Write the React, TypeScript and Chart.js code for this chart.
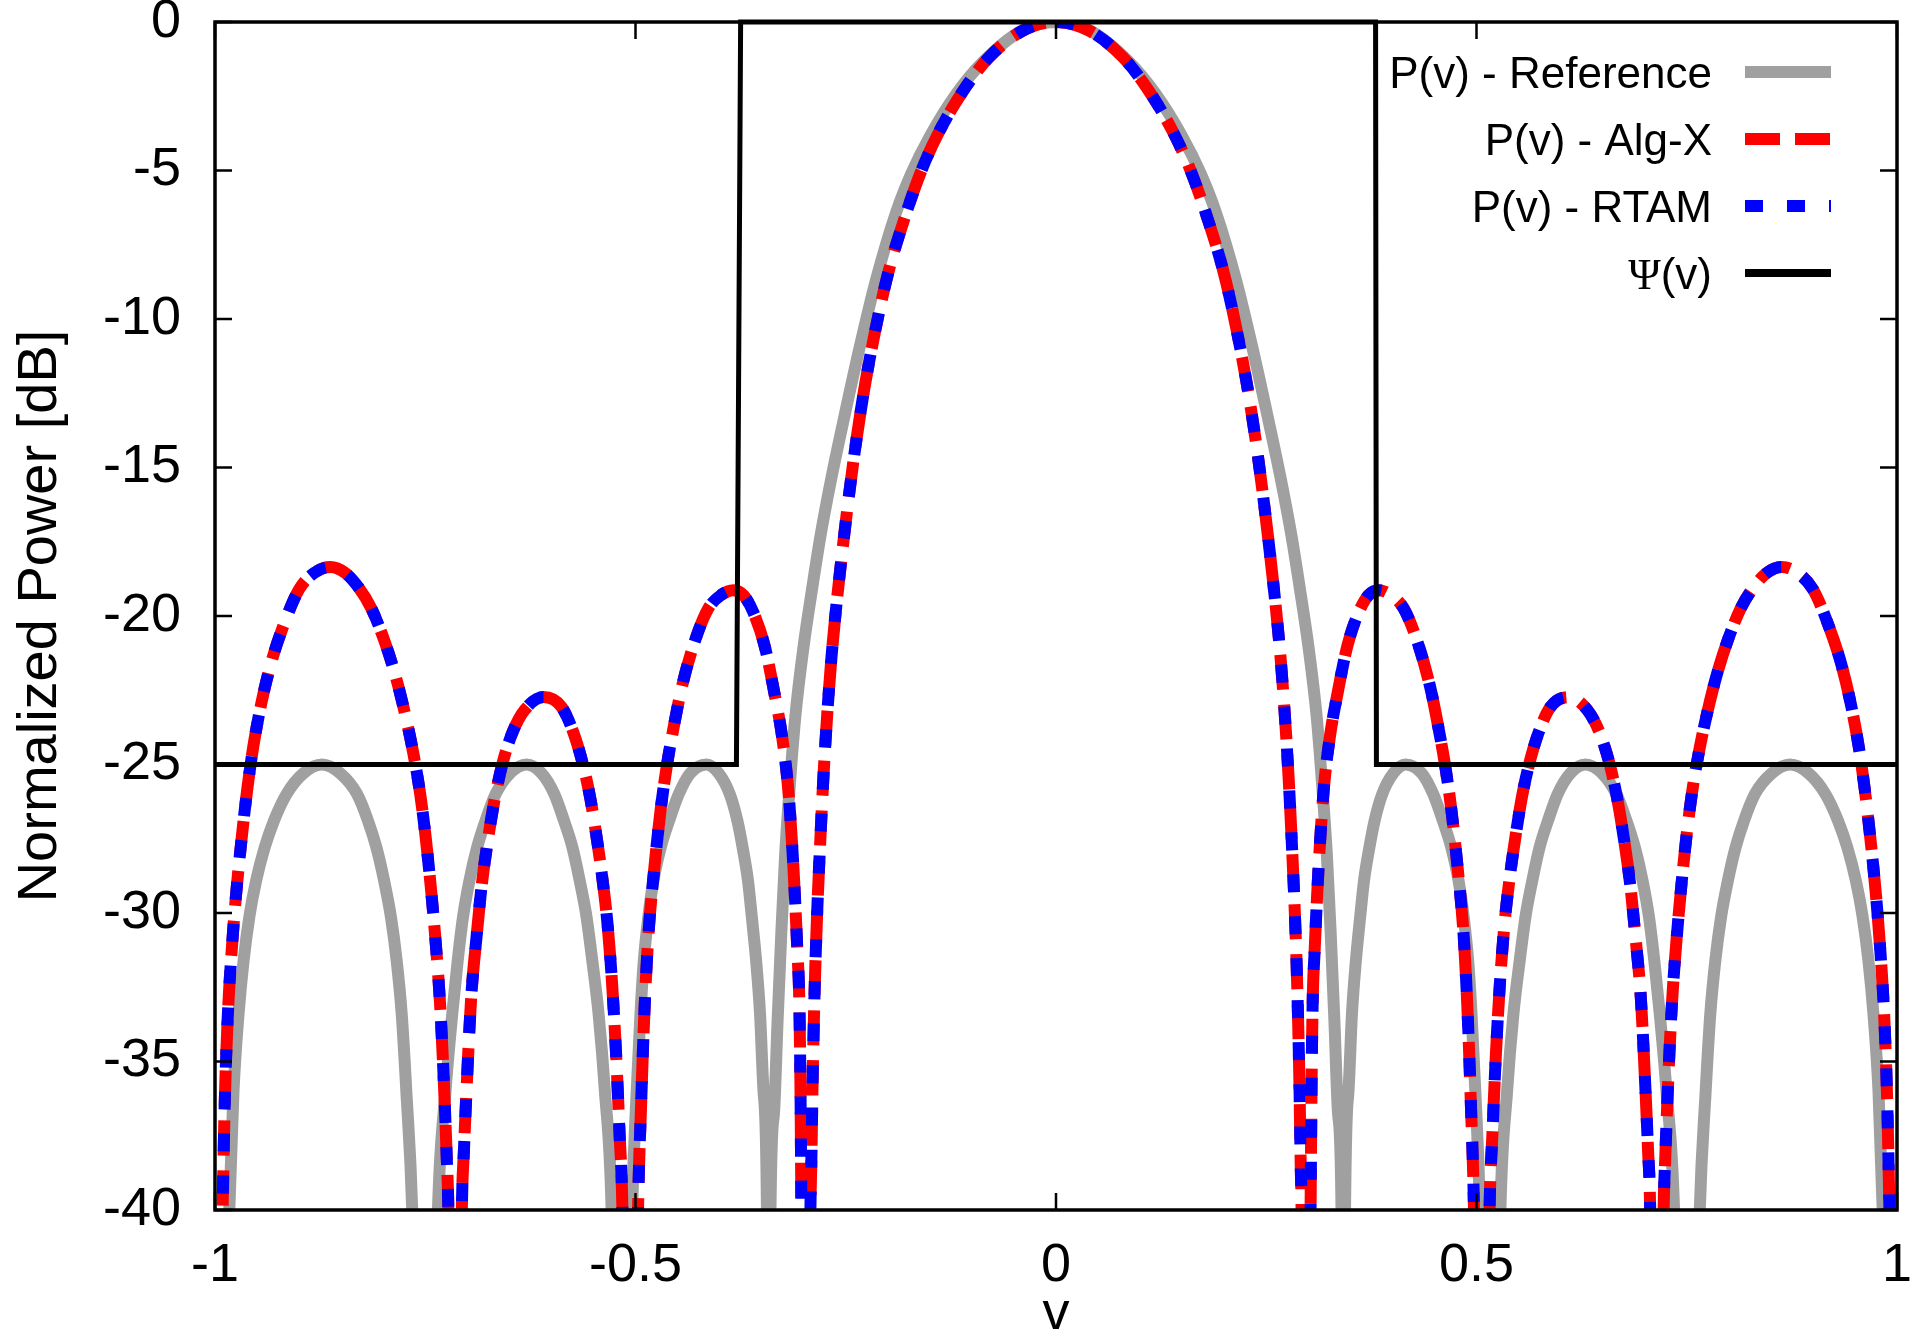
import { useEffect, useRef } from "react";
import { Chart, registerables } from "chart.js";

Chart.register(...registerables);

const W = 1921;
const H = 1336;
const FONT = "'Liberation Sans', Arial, Helvetica, sans-serif";
const SERIF = "'Liberation Serif', 'DejaVu Serif', serif";

// plot frame in canvas pixels (measured on the picture)
const PLOT = { left: 215, right: 1897, top: 22, bottom: 1210 };

const xTickValues = [-1, -0.5, 0, 0.5, 1];
const yTickValues = [-40, -35, -30, -25, -20, -15, -10, -5, 0];

// P(v) - Reference: v positions and dB
const refV = [
  -1,
  -0.983, -0.978, -0.972, -0.966, -0.959, -0.951, -0.941, -0.93, -0.915, -0.895,
  -0.873, -0.851, -0.831, -0.818, -0.808, -0.799, -0.791, -0.784, -0.778,
  -0.7725, -0.7655,
  -0.75,
  -0.7349, -0.7259, -0.7179, -0.7114, -0.7049, -0.6974, -0.6884, -0.6784,
  -0.6664, -0.6494, -0.6294, -0.6114, -0.5964, -0.5849, -0.5749, -0.5664,
  -0.5584, -0.5514, -0.5439, -0.5364, -0.5284,
  -0.516,
  -0.504, -0.4986, -0.4941, -0.4901, -0.4846, -0.4786, -0.4701, -0.4601,
  -0.4486, -0.435, -0.4156, -0.401, -0.3879, -0.3788, -0.3726, -0.3663,
  -0.3618, -0.3566, -0.3519, -0.3478, -0.3437,
  -0.3415,
  -0.3395, -0.3355, -0.331, -0.3265, -0.322, -0.3165, -0.31, -0.3005, -0.289,
  -0.28, -0.2667, -0.251, -0.233, -0.2132, -0.19, -0.172, -0.15, -0.118,
  -0.0864, -0.04, 0,
  0.04, 0.0864, 0.118, 0.15, 0.172, 0.19, 0.2132, 0.233, 0.251, 0.2667, 0.28,
  0.289, 0.3005, 0.31, 0.3165, 0.322, 0.3265, 0.331, 0.3355, 0.3395,
  0.3415,
  0.3437, 0.3478, 0.3519, 0.3566, 0.3618, 0.3663, 0.3726, 0.3788, 0.3879,
  0.401, 0.4156, 0.435, 0.4486, 0.4601, 0.4701, 0.4786, 0.4846, 0.4901,
  0.4941, 0.4986, 0.504,
  0.516,
  0.5284, 0.5364, 0.5439, 0.5514, 0.5584, 0.5664, 0.5749, 0.5849, 0.5964,
  0.6114, 0.6294, 0.6494, 0.6664, 0.6784, 0.6884, 0.6974, 0.7049, 0.7114,
  0.7179, 0.7259, 0.7349,
  0.75,
  0.7655, 0.7725, 0.778, 0.784, 0.791, 0.799, 0.808, 0.818, 0.831, 0.851,
  0.873, 0.895, 0.915, 0.93, 0.941, 0.951, 0.959, 0.966, 0.972, 0.978, 0.983,
  1,
];
const refDb = [
  -60,
  -40, -36.0, -33.4, -31.6, -30.1, -28.9, -27.8, -26.9, -26.0, -25.3,
  -25.0, -25.3, -26.0, -26.9, -27.8, -28.9, -30.1, -31.6, -33.4,
  -36.0, -40,
  -60,
  -40, -36.0, -33.4, -31.6, -30.1, -28.9, -27.8, -26.9,
  -26.0, -25.3, -25.0, -25.3, -26.0, -26.9, -27.8, -28.9,
  -30.1, -31.6, -33.4, -36.0, -40,
  -60,
  -40, -36.0, -33.4, -31.6, -30.1, -28.9, -27.8, -26.9,
  -26.0, -25.3, -25.0, -25.3, -26.0, -26.9, -27.8, -28.9,
  -30.1, -31.6, -33.4, -36.0, -40,
  -60,
  -40, -36.8, -33.6, -30.6, -28.0, -25.7, -23.4, -21.1, -18.9,
  -17.3, -15.3, -13.2, -10.9, -8.6, -6.4, -5.1, -3.85, -2.4,
  -1.33, -0.28, 0,
  -0.28, -1.33, -2.4, -3.85, -5.1, -6.4, -8.6, -10.9, -13.2, -15.3, -17.3,
  -18.9, -21.1, -23.4, -25.7, -28.0, -30.6, -33.6, -36.8, -40,
  -60,
  -40, -36.0, -33.4, -31.6, -30.1, -28.9, -27.8, -26.9, -26.0,
  -25.3, -25.0, -25.3, -26.0, -26.9, -27.8, -28.9, -30.1, -31.6,
  -33.4, -36.0, -40,
  -60,
  -40, -36.0, -33.4, -31.6, -30.1, -28.9, -27.8, -26.9, -26.0,
  -25.3, -25.0, -25.3, -26.0, -26.9, -27.8, -28.9, -30.1, -31.6,
  -33.4, -36.0, -40,
  -60,
  -40, -36.0, -33.4, -31.6, -30.1, -28.9, -27.8, -26.9, -26.0, -25.3,
  -25.0, -25.3, -26.0, -26.9, -27.8, -28.9, -30.1, -31.6, -33.4, -36.0, -40,
  -60,
];

// P(v) - Alg-X: v positions and dB
const algV = [
  -1, -0.991, -0.9885, -0.985, -0.9805, -0.975, -0.968, -0.9615, -0.9545,
  -0.945, -0.934, -0.919, -0.9, -0.882, -0.863, -0.845, -0.829, -0.814,
  -0.799, -0.786, -0.774, -0.764, -0.756, -0.7495, -0.7435, -0.738, -0.7325,
  -0.728, -0.7245, -0.7225, -0.714, -0.7065, -0.704, -0.7005, -0.6955, -0.689,
  -0.683, -0.675, -0.667, -0.658, -0.646, -0.6314, -0.6096, -0.588, -0.5735,
  -0.5625, -0.554, -0.5465, -0.54, -0.5335, -0.528, -0.523, -0.519, -0.5155,
  -0.506, -0.497, -0.4935, -0.4895, -0.4848, -0.478, -0.47, -0.4625, -0.455,
  -0.445, -0.4295, -0.4135, -0.3985, -0.3837, -0.3715, -0.3595, -0.3465,
  -0.3355, -0.3255, -0.3185, -0.314, -0.3105, -0.3075, -0.3052, -0.3038,
  -0.3027, -0.2965, -0.292, -0.291, -0.2893, -0.287, -0.284, -0.2805, -0.2765,
  -0.272, -0.267, -0.261, -0.254, -0.246, -0.237, -0.227, -0.215, -0.2, -0.18,
  -0.16, -0.14, -0.11, -0.08, -0.04, 0,
  0.04, 0.08, 0.11, 0.14, 0.16, 0.18, 0.2, 0.215, 0.227, 0.237, 0.246, 0.254,
  0.261, 0.267, 0.272, 0.2765, 0.2805, 0.284, 0.287, 0.2893, 0.291, 0.292,
  0.2965, 0.3027, 0.3038, 0.3052, 0.3075, 0.3105, 0.314, 0.3185, 0.3255,
  0.3355, 0.3465, 0.3595, 0.3715, 0.3837, 0.3985, 0.4135, 0.4295, 0.445,
  0.455, 0.4625, 0.47, 0.478, 0.4848, 0.4895, 0.4935, 0.497, 0.506, 0.5155,
  0.519, 0.523, 0.528, 0.5335, 0.54, 0.5465, 0.554, 0.5625, 0.5735, 0.588,
  0.6096, 0.6314, 0.646, 0.658, 0.667, 0.675, 0.683, 0.689, 0.6955, 0.7005,
  0.704, 0.7065, 0.714, 0.7225, 0.7245, 0.728, 0.7325, 0.738, 0.7435, 0.7495,
  0.756, 0.764, 0.774, 0.786, 0.799, 0.814, 0.829, 0.845, 0.863, 0.882, 0.9,
  0.919, 0.934, 0.945, 0.9545, 0.9615, 0.968, 0.975, 0.9805, 0.985, 0.9885,
  0.991, 1,
];
const algXDb = [
  -55, -40, -36.5, -33.6, -31.4, -29.4, -27.4, -25.8, -24.4,
  -22.95, -21.65, -20.35, -19.1, -18.55, -18.35, -18.55, -19.05, -19.75,
  -20.8, -21.95, -23.3, -24.65, -26.0, -27.45, -29.1, -30.85, -33.0,
  -35.6, -38.2, -40, -60, -40, -38.0, -35.7, -32.9, -30.8,
  -29.1, -27.45, -26.1, -24.95, -23.9, -23.15, -22.73, -23.06, -23.95,
  -25.0, -26.1, -27.4, -28.7, -30.3, -32.3, -34.8, -37.4, -40,
  -60, -40, -36.6, -33.4, -30.8, -28.6, -26.5, -25.0, -23.8,
  -22.4, -20.85, -19.75, -19.3, -19.13, -19.3, -19.9, -21.0,
  -22.5, -24.1, -25.8, -27.6, -29.4, -31.3, -33.0, -36.0,
  -40, -60, -40, -38.5, -35.5, -32.6, -30.0, -27.7, -25.4,
  -23.3, -21.4, -19.6, -17.8, -15.9, -14.0, -12.2, -10.4, -8.5, -6.6,
  -5.0, -3.75, -2.3, -1.2, -0.3, 0,
  -0.3, -1.2, -2.3, -3.75, -5.0, -6.6, -8.5, -10.4, -12.2, -14.0, -15.9, -17.8,
  -19.6, -21.4, -23.3, -25.4, -27.7, -30.0, -32.6, -35.5, -38.5, -40,
  -60, -40, -36.0, -33.0, -31.3, -29.4, -27.6, -25.8, -24.1,
  -22.5, -21.0, -19.9, -19.3, -19.13, -19.3, -19.75, -20.85, -22.4,
  -23.8, -25.0, -26.5, -28.6, -30.8, -33.4, -36.6, -40, -60, -40,
  -37.4, -34.8, -32.3, -30.3, -28.7, -27.4, -26.1, -25.0, -23.95, -23.06,
  -22.73, -23.15, -23.9, -24.95, -26.1, -27.45, -29.1, -30.8, -32.9, -35.7,
  -38.0, -40, -60, -40, -38.2, -35.6, -33.0, -30.85, -29.1, -27.45,
  -26.0, -24.65, -23.3, -21.95, -20.8, -19.75, -19.05, -18.55, -18.35, -18.55, -19.1,
  -20.35, -21.65, -22.95, -24.4, -25.8, -27.4, -29.4, -31.4, -33.6, -36.5,
  -40, -55,
];
// the blue dotted RTAM trace lies exactly on the Alg-X trace in the picture
const rtamDb = algXDb;

// Psi(v) mask
const maskV = [-1, -0.38, -0.375, 0.38, 0.381, 1];
const maskDb = [-25, -25, 0, 0, -25, -25];

const toPoints = (xs: number[], ys: number[]) =>
  xs.map((x, i) => ({ x, y: ys[i] }));

const frameAndKey = {
  id: "frameAndKey",
  afterDatasetsDraw(chart: Chart) {
    const { ctx, chartArea: a } = chart;
    const xs = chart.scales.x;
    const ys = chart.scales.y;
    const tick = 17;

    ctx.save();
    ctx.strokeStyle = "#000";
    ctx.lineWidth = 2.5;
    ctx.setLineDash([]);
    ctx.beginPath();
    for (const t of xs.ticks) {
      const px = xs.getPixelForValue(t.value);
      ctx.moveTo(px, a.bottom);
      ctx.lineTo(px, a.bottom - tick);
      ctx.moveTo(px, a.top);
      ctx.lineTo(px, a.top + tick);
    }
    for (const t of ys.ticks) {
      const py = ys.getPixelForValue(t.value);
      ctx.moveTo(a.left, py);
      ctx.lineTo(a.left + tick, py);
      ctx.moveTo(a.right, py);
      ctx.lineTo(a.right - tick, py);
    }
    ctx.stroke();
    ctx.lineWidth = 3.5;
    ctx.strokeRect(a.left, a.top, a.right - a.left, a.bottom - a.top);

    // key, gnuplot style: text right aligned, sample to its right
    const textRight = 1712;
    const sx0 = 1745;
    const sx1 = 1831;
    const rowY = [72, 139, 206, 273];
    const size = 44;
    chart.data.datasets.forEach((ds: any, i: number) => {
      const y = rowY[i];
      const label: string = ds.label;
      ctx.fillStyle = "#000";
      ctx.textAlign = "right";
      ctx.textBaseline = "alphabetic";
      const base = y + size * 0.358;
      if (label.startsWith("Ψ")) {
        ctx.font = `${size}px ${FONT}`;
        const rest = label.slice(1);
        ctx.fillText(rest, textRight, base);
        const w = ctx.measureText(rest).width;
        ctx.font = `${size}px ${SERIF}`;
        ctx.fillText("Ψ", textRight - w, base);
      } else {
        ctx.font = `${size}px ${FONT}`;
        ctx.fillText(label, textRight, base);
      }
      ctx.strokeStyle = ds.borderColor;
      ctx.lineWidth = ds.keyWidth ?? ds.borderWidth;
      ctx.lineCap = "butt";
      ctx.setLineDash(ds.borderDash ?? []);
      ctx.beginPath();
      ctx.moveTo(sx0, y);
      ctx.lineTo(sx1, y);
      ctx.stroke();
    });
    ctx.restore();
  },
};

export default function App() {
  const canvasRef = useRef<HTMLCanvasElement | null>(null);

  useEffect(() => {
    if (!canvasRef.current) return;
    const curve = {
      pointRadius: 0,
      borderWidth: 12,
      cubicInterpolationMode: "monotone" as const,
      borderCapStyle: "butt" as const,
      borderJoinStyle: "round" as const,
      clip: 0,
      fill: false,
    };
    const chart = new Chart(canvasRef.current, {
      type: "line",
      data: {
        datasets: [
          {
            ...curve,
            label: "P(v) - Reference",
            data: toPoints(refV, refDb),
            borderColor: "#a0a0a0",
            keyWidth: 12,
            order: 4,
          } as any,
          {
            ...curve,
            label: "P(v) - Alg-X",
            data: toPoints(algV, algXDb),
            borderColor: "#ff0000",
            borderDash: [35, 15],
            keyWidth: 12,
            order: 3,
          } as any,
          {
            ...curve,
            label: "P(v) - RTAM",
            data: toPoints(algV, rtamDb),
            borderColor: "#0000ff",
            borderDash: [18, 24],
            keyWidth: 12,
            order: 2,
          } as any,
          {
            label: "Ψ(v)",
            data: toPoints(maskV, maskDb),
            borderColor: "#000000",
            borderWidth: 5,
            keyWidth: 8,
            pointRadius: 0,
            tension: 0,
            clip: 4,
            fill: false,
            order: 1,
          } as any,
        ],
      },
      options: {
        animation: false,
        responsive: false,
        devicePixelRatio: 1,
        events: [],
        layout: {
          padding: { top: PLOT.top, right: W - PLOT.right, left: 0, bottom: 0 },
        },
        plugins: {
          legend: { display: false },
          tooltip: { enabled: false },
        },
        scales: {
          x: {
            type: "linear",
            min: -1,
            max: 1,
            afterBuildTicks: (s: any) => {
              s.ticks = xTickValues.map((value) => ({ value }));
            },
            afterFit: (s: any) => {
              s.height = H - PLOT.bottom;
              s.paddingLeft = 0;
              s.paddingRight = 0;
            },
            grid: { display: false, drawTicks: false },
            border: { display: false },
            ticks: {
              color: "#000",
              font: { family: FONT, size: 54, lineHeight: 1 },
              padding: 29,
              maxRotation: 0,
              autoSkip: false,
              callback: (v: any) => String(v),
            },
            title: {
              display: true,
              text: "v",
              color: "#000",
              font: { family: FONT, size: 54, lineHeight: 0.8 },
              padding: { top: 0, bottom: 0 },
            },
          },
          y: {
            type: "linear",
            min: -40,
            max: 0,
            afterBuildTicks: (s: any) => {
              s.ticks = yTickValues.map((value) => ({ value }));
            },
            afterFit: (s: any) => {
              s.width = PLOT.left;
              s.paddingTop = 0;
              s.paddingBottom = 0;
            },
            grid: { display: false, drawTicks: false },
            border: { display: false },
            ticks: {
              color: "#000",
              font: { family: FONT, size: 54, lineHeight: 1 },
              padding: 34,
              autoSkip: false,
              callback: (v: any) => String(v),
            },
            title: {
              display: true,
              text: "Normalized Power [dB]",
              color: "#000",
              font: { family: FONT, size: 56, lineHeight: 1 },
              padding: { top: 13, bottom: 0 },
            },
          },
        },
      } as any,
      plugins: [frameAndKey],
    });
    return () => chart.destroy();
  }, []);

  return (
    <div
      style={{
        position: "fixed",
        left: 0,
        top: 0,
        width: W,
        height: H,
        background: "#fff",
      }}
    >
      <canvas
        ref={canvasRef}
        width={W}
        height={H}
        style={{ display: "block", width: W, height: H }}
      />
    </div>
  );
}
